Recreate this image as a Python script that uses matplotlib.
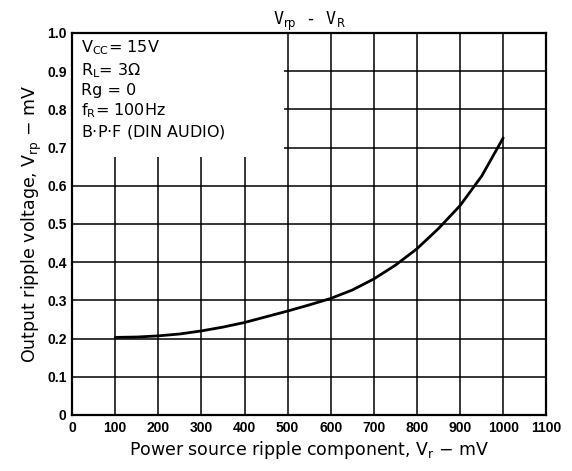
import numpy as np
import matplotlib.pyplot as plt
from matplotlib.ticker import FuncFormatter
from matplotlib.patches import Rectangle

# ripple curve
vr_mv = [100, 150, 200, 250, 300, 350, 400, 450, 500, 550, 600, 650, 700, 750, 800,
         850, 900, 950, 1000]
vrp_mv = [0.203, 0.204, 0.207, 0.212, 0.22, 0.23, 0.242, 0.257, 0.272, 0.288, 0.305, 0.327,
          0.356, 0.392, 0.435, 0.488, 0.548, 0.625, 0.725]

x_ticks = list(range(0, 1101, 100))
y_ticks = [0, 0.1, 0.2, 0.3, 0.4, 0.5, 0.6, 0.7, 0.8, 0.9, 1.0]

conditions = [r'V$_{\rm CC}$= 15V', r'R$_{\rm L}$= 3$\Omega$', 'Rg = 0',
              r'f$_{\rm R}$= 100Hz', 'B$\\cdot$P$\\cdot$F (DIN AUDIO)']

fig = plt.figure(figsize=(5.72, 4.71), dpi=100)
ax = fig.add_axes([0.126, 0.119, 0.829, 0.811])

ax.plot(vr_mv, vrp_mv, color='black', linewidth=2.0, solid_capstyle='round',
        solid_joinstyle='round', zorder=3)

ax.set_xlim(0, 1100)
ax.set_ylim(0, 1.0)
ax.set_xticks(x_ticks)
ax.set_yticks(y_ticks)
ax.yaxis.set_major_formatter(FuncFormatter(lambda v, p: '0' if v == 0 else f'{v:.1f}'))
ax.grid(True, color='black', linewidth=1.1)
ax.set_axisbelow(True)
for s in ax.spines.values():
    s.set_linewidth(1.6)
ax.tick_params(direction='in', length=0, pad=4)
for lab in ax.get_xticklabels() + ax.get_yticklabels():
    lab.set_fontweight('bold')
    lab.set_family('Liberation Sans')
    lab.set_fontsize(10)

# white patch over the grid behind the conditions
ax.add_patch(Rectangle((0, 0.675), 0.447, 0.325, transform=ax.transAxes,
                       facecolor='white', edgecolor='none', zorder=2))
ax.text(0.018, 0.985, '\n'.join(conditions), transform=ax.transAxes, va='top', ha='left',
        fontsize=11.5, family='DejaVu Sans', linespacing=1.25, zorder=4)

ax.set_title(r'V$_{\rm rp}$ - V$_{\rm R}$', fontsize=12, family='DejaVu Sans Mono', pad=4)
ax.set_xlabel(r'Power source ripple component, V$_{\rm r}$ $-$ mV', fontsize=12.5, labelpad=3)
ax.set_ylabel(r'Output ripple voltage, V$_{\rm rp}$ $-$ mV', fontsize=12.5, labelpad=2)

fig.savefig('out.png', dpi=100)
